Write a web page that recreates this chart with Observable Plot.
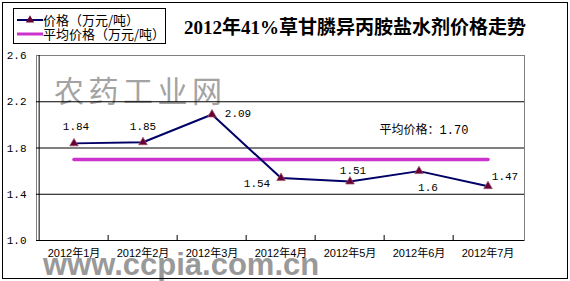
<!DOCTYPE html>
<html><head><meta charset="utf-8">
<script src="https://cdn.jsdelivr.net/npm/d3@7"></script>
<script src="https://cdn.jsdelivr.net/npm/@observablehq/plot@0.6"></script>
<style>
body{margin:0;background:#fff;}
#wrap{position:relative;width:570px;height:281px;overflow:hidden;background:#fff;}
.abs{position:absolute;white-space:nowrap;}
#wrap svg.plot{position:absolute;left:0;top:0;}
</style></head><body><div id="wrap"></div>
<script>
// ---- data ----
const titleText = "2012年41%草甘膦异丙胺盐水剂价格走势";
const months = ["2012年1月","2012年2月","2012年3月","2012年4月","2012年5月","2012年6月","2012年7月"];
const prices = [1.84, 1.85, 2.09, 1.54, 1.51, 1.6, 1.47];
const avgPrice = 1.70;
const yTicks = [1.0, 1.4, 1.8, 2.2, 2.6];
const seriesNames = ["价格（万元/吨）", "平均价格（万元/吨）"];
const avgLabelPrefix = "平均价格：";
const watermarkCn = "农药工业网";
const watermarkUrl = "www.ccpia.com.cn";

// ---- layout (not data) ----
const W = 570, H = 281, mL = 36, mR = 46, mT = 55, mB = 41;
const labelOffsets = [[2,-17],[0,-16],[26,-1],[-24,5],[3,-11],[9,16],[17,-10]];
const lineColor = "#000066", markColor = "#660033", avgColor = "#cc33cc";
const monoFont = "'Liberation Mono','Noto Sans CJK SC',monospace";
const sansFont = "'Liberation Sans','Noto Sans CJK SC',sans-serif";

const bw = (W - mL - mR) / months.length;
const innerH = H - mT - mB;
const data = months.map((m, i) => ({month: m, price: prices[i]}));
const avgData = months.map(m => ({month: m, price: avgPrice}));

const wrap = document.getElementById("wrap");

// watermarks (under the chart)
const wm1 = document.createElement("div");
wm1.className = "abs";
wm1.textContent = watermarkCn;
wm1.style.cssText += "left:54px;top:71px;font:30px 'Noto Sans CJK SC';letter-spacing:4.5px;color:#a3a3a3;line-height:36px;";
wrap.appendChild(wm1);
const wm2 = document.createElement("div");
wm2.className = "abs";
wm2.textContent = watermarkUrl;
wm2.style.cssText += "left:43px;top:247px;font:bold 31px 'Liberation Sans';color:#999;line-height:36px;";
wrap.appendChild(wm2);

const labelMarks = data.map((d, i) => Plot.text([d], {
  x: "month", y: "price", text: r => String(r.price),
  dx: labelOffsets[i][0], dy: labelOffsets[i][1],
  fontFamily: monoFont, fontSize: 11, fill: "#000"
}));

const chart = Plot.plot({
  width: W, height: H,
  marginLeft: mL, marginRight: mR, marginTop: mT, marginBottom: mB,
  style: {background: "transparent", fontFamily: sansFont, fontSize: "11px", color: "#000"},
  x: {type: "band", domain: months, padding: 0, axis: null, label: null},
  y: {domain: [yTicks[0], yTicks[yTicks.length - 1]], axis: null, label: null},
  marks: [
    Plot.frame({stroke: "#808080"}),
    Plot.ruleY(yTicks.slice(1, -1), {stroke: "#000"}),
    Plot.ruleY([yTicks[0]], {stroke: "#000"}),
    Plot.ruleX([months[0]], {dx: -bw / 2, stroke: "#000"}),
    Plot.ruleX(months.slice(1), {dx: -bw / 2, insetTop: innerH - 5, stroke: "#000"}),
    Plot.axisY(yTicks, {tickSize: 0, tickPadding: 10, tickFormat: d3.format(".1f"), label: null, fontFamily: monoFont, fontSize: 11}),
    Plot.axisX({tickSize: 0, tickPadding: 9, label: null, fontFamily: sansFont, fontSize: 11}),
    Plot.line(avgData, {x: "month", y: "price", stroke: avgColor, strokeWidth: 3.5}),
    Plot.line(data, {x: "month", y: "price", stroke: lineColor, strokeWidth: 2}),
    Plot.dot(data, {x: "month", y: "price", symbol: "triangle", r: 3.2, fill: markColor, stroke: "#a05070", strokeWidth: 0.7}),
    ...labelMarks,
    Plot.text([{month: months[5], price: avgPrice}], {
      x: "month", y: "price", text: d => avgLabelPrefix + d.price.toFixed(2),
      dx: 5, dy: -29, fontFamily: monoFont, fontSize: 12, fill: "#000"
    })
  ]
});
chart.classList.add("plot");
wrap.appendChild(chart);

// title
const title = document.createElement("div");
title.className = "abs";
title.textContent = titleText;
title.style.cssText += "left:355px;top:25px;transform:translate(-50%,-50%);font:bold 19px 'Liberation Serif','Noto Sans CJK SC',serif;color:#000;";
wrap.appendChild(title);

// legend
const legend = document.createElement("div");
legend.className = "abs";
legend.style.cssText += "left:13px;top:8px;width:153px;height:36px;border:1px solid #000;box-sizing:border-box;background:#fff;";
wrap.appendChild(legend);
seriesNames.forEach((name, i) => {
  const row = document.createElement("div");
  row.className = "abs";
  row.style.cssText += `left:3px;top:${4 + i * 14}px;height:14px;display:flex;align-items:center;font:13px 'Noto Sans CJK SC';line-height:14px;color:#000;`;
  const sw = d3.create("svg").attr("width", 26).attr("height", 12).style("display", "block");
  if (i === 0) {
    sw.append("line").attr("x1", 0).attr("x2", 26).attr("y1", 6).attr("y2", 6).attr("stroke", lineColor).attr("stroke-width", 2);
    sw.append("path").attr("d", d3.symbol(d3.symbolTriangle, 30)()).attr("transform", "translate(13,6)").attr("fill", markColor);
  } else {
    sw.append("line").attr("x1", 0).attr("x2", 26).attr("y1", 6).attr("y2", 6).attr("stroke", avgColor).attr("stroke-width", 3);
  }
  row.appendChild(sw.node());
  const t = document.createElement("span");
  t.textContent = name;
  row.appendChild(t);
  legend.appendChild(row);
});

// outer border
const border = document.createElement("div");
border.className = "abs";
border.style.cssText += "left:2px;top:2px;width:566px;height:277px;border:1px solid #000;box-sizing:border-box;pointer-events:none;";
wrap.appendChild(border);
</script></body></html>
